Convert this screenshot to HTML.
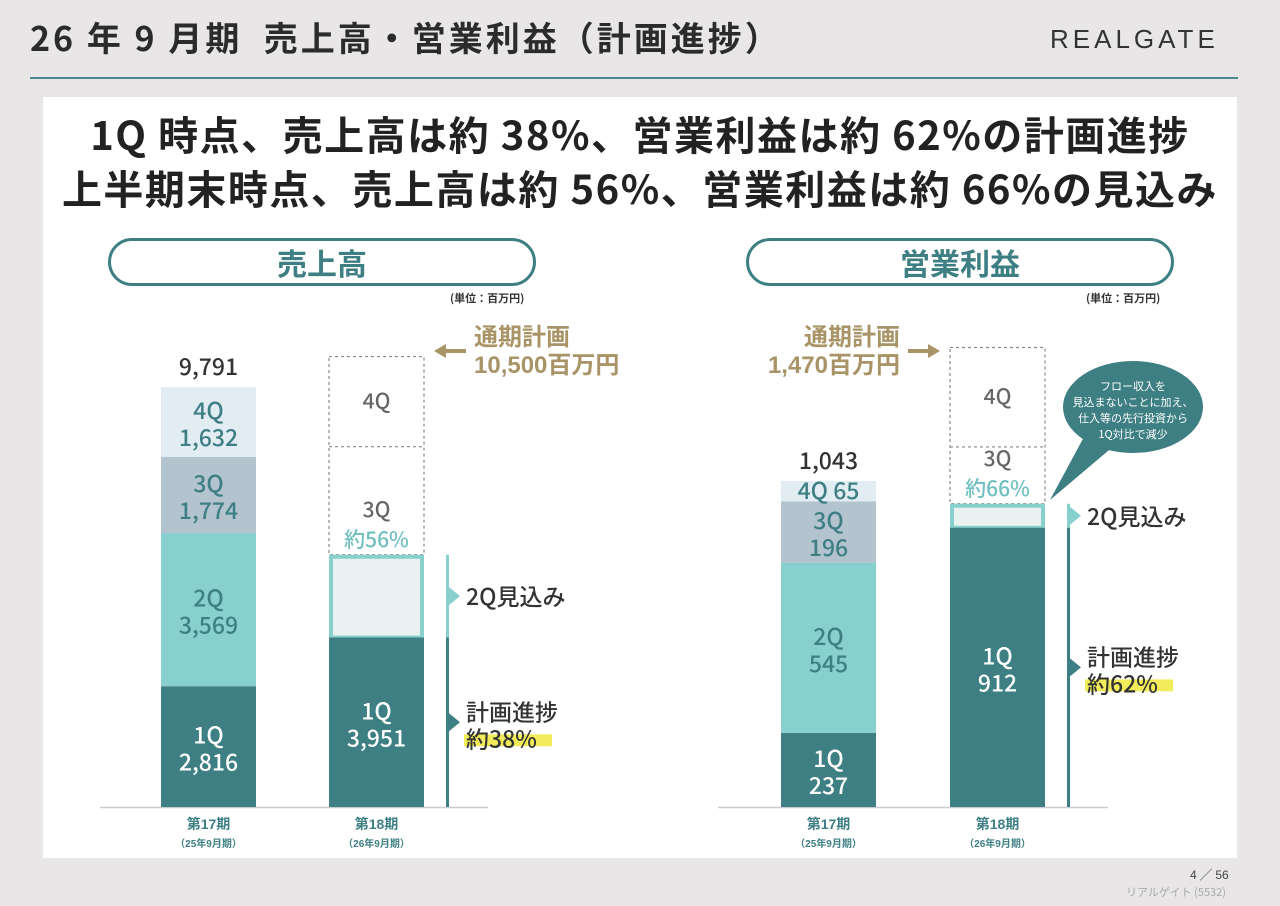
<!DOCTYPE html>
<html><head><meta charset="utf-8"><style>
body{margin:0;width:1280px;height:906px;background:#e8e6e6;font-family:"Liberation Sans","Noto Sans CJK JP",sans-serif;position:relative;overflow:hidden}
.a{position:absolute}
.jp{font-family:"Noto Sans CJK JP","Liberation Sans",sans-serif;font-weight:700}
.pill{position:absolute;border:3px solid #3e7f84;border-radius:26px;background:#fff;color:#3e7f84;font-size:30px;text-align:center;line-height:42px;height:42px}
</style></head><body>
<div class="a jp" style="left:30px;top:12px;font-size:34px;color:#2b2b2b;letter-spacing:3px;font-weight:700">26 年 9 月期&nbsp; 売上高・営業利益（計画進捗）</div>
<div class="a" style="left:1050px;top:24px;font-size:26px;letter-spacing:4px;color:#333">REALGATE</div>
<div class="a" style="left:30px;top:77px;width:1208px;height:2px;background:#4a8a8c"></div>
<div class="a" style="left:43px;top:97px;width:1194px;height:761px;background:#fff"></div>
<div class="a jp" style="left:43px;top:106px;width:1194px;text-align:center;font-size:40px;line-height:54px;color:#222;letter-spacing:1.5px">1Q 時点、売上高は約 38%、営業利益は約 62%の計画進捗<br>上半期末時点、売上高は約 56%、営業利益は約 66%の見込み</div>
<div class="pill jp" style="left:108px;top:238px;width:422px">売上高</div>
<div class="pill jp" style="left:746px;top:238px;width:422px">営業利益</div>
<div class="a jp" style="left:450px;top:290px;font-size:11px;color:#333">(単位：百万円)</div>
<div class="a jp" style="left:1086px;top:290px;font-size:11px;color:#333">(単位：百万円)</div>
<div class="a" style="left:1190px;top:866px;font-size:12px;color:#444">4 ╱ 56</div>
<div class="a jp" style="left:1126px;top:884px;font-size:11px;color:#aaa;font-weight:400">リアルゲイト (5532)</div>
<svg class="a" style="left:0;top:0" width="1280" height="906" id="chart"></svg>
<script>
// Sales chart data
const salesPrev = [2816, 3569, 1774, 1632];
const salesPrevTotal = 9791;
const salesCur1Q = 3951;
const salesFcstPct = 56;
const salesPlan = 10500;
const salesPlan3QEnd = 8400;
const salesProgPct = 38;
// Profit chart data
const profPrev = [237, 545, 196, 65];
const profPrevTotal = 1043;
const profCur1Q = 912;
const profFcstPct = 66;
const profPlan = 1470;
const profPlan3QEnd = 1152;
const profProgPct = 62;
const quarters = ["1Q","2Q","3Q","4Q"];

const svg = document.getElementById('chart');
const NS = 'http://www.w3.org/2000/svg';
const FONT = '"Liberation Sans","Noto Sans CJK JP",sans-serif';
const FONTM = '"Noto Sans CJK JP","Liberation Sans",sans-serif';
function mk(tag, at, name){const e=document.createElementNS(NS,tag);for(const k in at)e.setAttribute(k,at[k]);


svg.appendChild(e);return e;}
function txt(x,y,s,size,fill,name,anchor,wt){const t=mk('text',{x:x,y:y,'font-size':size,fill:fill,'text-anchor':anchor||'middle','font-family':wt?FONTM:FONT,'font-weight':wt||700},name);t.textContent=s;return t;}
const fills=['#3e7f84','#88d0cd','#b3c4cf','#e2ecf3'];
const tcol=['#fff','#3e7f84','#3e7f84','#3e7f84'];

function draw(o){
  const base=807, y=v=>base-v*o.scale;
  mk('line',{x1:o.axL,x2:o.axR,y1:base+0.5,y2:base+0.5,stroke:'#c8ccd0','stroke-width':1.5},o.p+'-baseline');
  let acc=0;
  o.prev.forEach((v,i)=>{
    const y0=y(acc+v),y1=y(acc);
    mk('rect',{x:o.x1,y:y0,width:o.w,height:y1-y0,fill:fills[i]},o.p+'-prev-'+quarters[i]);
    const cx=o.x1+o.w/2,cy=(y0+y1)/2;
    if(y1-y0<25) txt(cx,cy+8,quarters[i]+' '+v.toLocaleString('en-US'),23,tcol[i],o.p+'-prev-label-'+quarters[i],'middle',500);
    else {txt(cx,cy-3,quarters[i],23,tcol[i],o.p+'-prev-q-'+quarters[i],'middle',500);txt(cx,cy+24,v.toLocaleString('en-US'),23,tcol[i],o.p+'-prev-val-'+quarters[i],'middle',500);}
    acc+=v;
  });
  txt(o.x1+o.w/2,y(o.prevTotal)-12,o.prevTotal.toLocaleString('en-US'),23,'#333',o.p+'-prev-total','middle',500);
  const pTop=y(o.plan),p3=y(o.plan3),fc=y(o.plan*o.fpct/100),q1=Math.max(y(o.cur1),fc+24);
  mk('rect',{x:o.x2,y:pTop,width:o.w,height:fc-pTop,fill:'none',stroke:'#888','stroke-width':1.2,'stroke-dasharray':'3,3'},o.p+'-plan-outline');
  mk('line',{x1:o.x2,x2:o.x2+o.w,y1:p3,y2:p3,stroke:'#888','stroke-width':1.2,'stroke-dasharray':'3,3'},o.p+'-plan-divider');
  txt(o.x2+o.w/2,(pTop+p3)/2+7,'4Q',21,'#666',o.p+'-plan-4q','middle',500);
  txt(o.x2+o.w/2,fc-38,'3Q',21,'#666',o.p+'-plan-3q','middle',500);
  txt(o.x2+o.w/2,fc-8,'約'+o.fpct+'%',21,'#6fbfbf',o.p+'-fcst-pct','middle',500);
  mk('rect',{x:o.x2+2,y:fc+2,width:o.w-4,height:q1-fc-2,fill:'#e9f1f1',stroke:'#88d0cd','stroke-width':4},o.p+'-fcst-2q');
  mk('rect',{x:o.x2,y:q1,width:o.w,height:base-q1,fill:fills[0]},o.p+'-cur-1q');
  txt(o.x2+o.w/2,(q1+base)/2-3,'1Q',23,'#fff',o.p+'-cur-q','middle',500);
  txt(o.x2+o.w/2,(q1+base)/2+24,o.cur1.toLocaleString('en-US'),23,'#fff',o.p+'-cur-val','middle',500);
  const bx=o.x2+o.w+22;
  mk('rect',{x:bx,y:fc,width:3,height:q1-fc,fill:'#88d0cd'},o.p+'-bracket-2q');
  mk('rect',{x:bx,y:q1,width:3,height:base-q1,fill:'#3e7f84'},o.p+'-bracket-1q');
  const m2=(fc+q1)/2,m1=(q1+base)/2;
  mk('polygon',{points:`${bx+3},${m2-9} ${bx+14},${m2} ${bx+3},${m2+9}`,fill:'#88d0cd'},o.p+'-arrow-2q');
  mk('polygon',{points:`${bx+3},${m1-9} ${bx+14},${m1} ${bx+3},${m1+9}`,fill:'#3e7f84'},o.p+'-arrow-1q');
  txt(bx+20,m2+9,'2Q見込み',23,'#333',o.p+'-fcst-label','start',500);
  mk('rect',{x:bx+18,y:m1+12,width:88,height:12,fill:'#f3ec5a'},o.p+'-highlight');
  txt(bx+20,m1-2,'計画進捗',23,'#333',o.p+'-progress-label','start',500);
  txt(bx+20,m1+25,'約'+o.prog+'%',23,'#333',o.p+'-progress-pct','start',500);
  [[o.x1,'第17期','（25年9月期）'],[o.x2,'第18期','（26年9月期）']].forEach((c,i)=>{
    txt(c[0]+o.w/2,829,c[1],14,'#3e7f84',o.p+'-category-'+(i+17));
    txt(c[0]+o.w/2,847,c[2],10,'#3e7f84',o.p+'-period-'+(i+17));
  });
}
draw({p:'sales',prev:salesPrev,prevTotal:salesPrevTotal,cur1:salesCur1Q,fpct:salesFcstPct,plan:salesPlan,plan3:salesPlan3QEnd,prog:salesProgPct,scale:420/salesPrevTotal,x1:161,x2:329,w:95,axL:100,axR:488});
draw({p:'profit',prev:profPrev,prevTotal:profPrevTotal,cur1:profCur1Q,fpct:profFcstPct,plan:profPlan,plan3:profPlan3QEnd,prog:profProgPct,scale:326/profPrevTotal,x1:781,x2:950,w:95,axL:718,axR:1108});
txt(474,345,'通期計画',24,'#a89466','sales-plan-title','start');
txt(474,373,salesPlan.toLocaleString('en-US')+'百万円',24,'#a89466','sales-plan-value','start');
mk('polygon',{points:'434,351 446,344 446,349 466,349 466,353 446,353 446,358',fill:'#a89466'},'sales-plan-arrow');
txt(900,345,'通期計画',24,'#a89466','profit-plan-title','end');
txt(900,373,profPlan.toLocaleString('en-US')+'百万円',24,'#a89466','profit-plan-value','end');
mk('polygon',{points:'908,349 928,349 928,344 940,351 928,358 928,353 908,353',fill:'#a89466'},'profit-plan-arrow');
mk('ellipse',{cx:1133,cy:407,rx:70,ry:46,fill:'#3e7f84'},'callout-bubble');
mk('polygon',{points:'1085,435 1115,445 1050,500',fill:'#3e7f84'},'callout-tail');
['フロー収入を','見込まないことに加え、','仕入等の先行投資から','1Q対比で減少'].forEach((s,i)=>{
  txt(1133,390+i*16,s,11,'#fff','callout-line-'+(i+1),'middle',400);
});
</script>
</body></html>
